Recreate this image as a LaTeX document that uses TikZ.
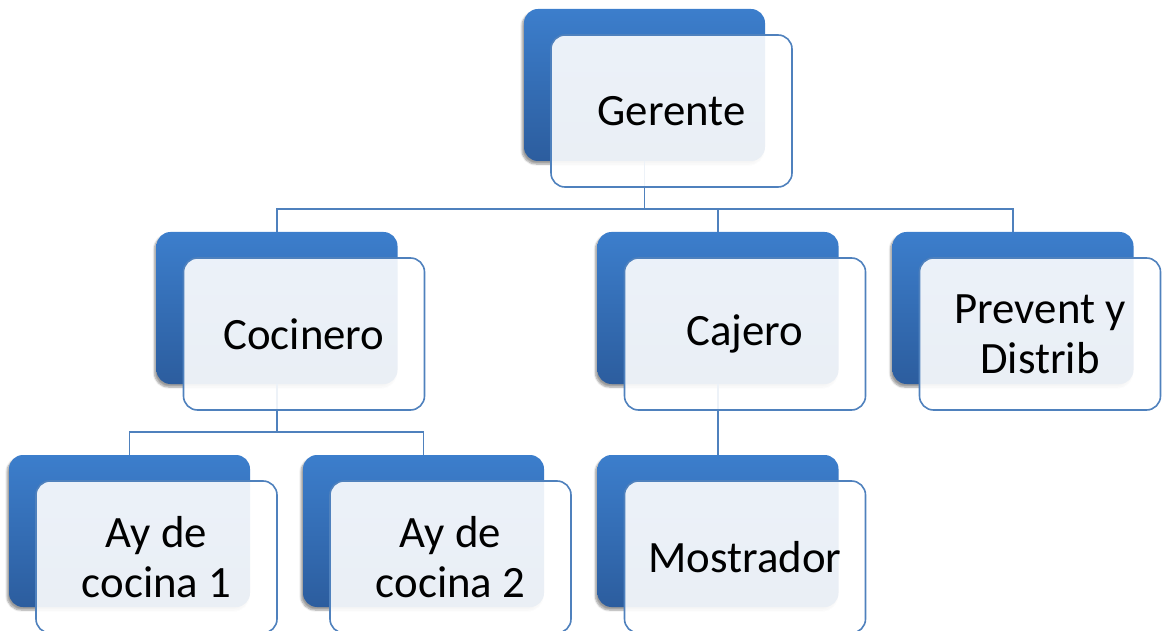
\documentclass[tikz,border=0pt]{standalone}
\usepackage{fontspec}
\setmainfont{Carlito}
\usetikzlibrary{shadows.blur}
\definecolor{bluetop}{RGB}{60,126,204}
\definecolor{bluebot}{RGB}{44,93,158}
\definecolor{edgeblue}{RGB}{79,129,189}
\begin{document}
\begin{tikzpicture}[x=1pt,y=-1pt,
 backbox/.style={rectangle, rounded corners=14pt, minimum width=241pt, minimum height=152pt, inner sep=0pt, outer sep=0pt, top color=bluetop, bottom color=bluebot, draw=none, blur shadow={shadow xshift=-2pt,shadow yshift=-3pt,shadow opacity=40,shadow blur steps=6}},
 frontbox/.style={rectangle, rounded corners=14pt, minimum width=241pt, minimum height=152pt, inner sep=0pt, outer sep=0pt, draw=edgeblue, line width=1.6pt, fill=white, fill opacity=0.9, text opacity=1, align=center, font=\fontsize{44.8}{50}\selectfont},
 conn/.style={draw=edgeblue, line width=1.6pt}]
\useasboundingbox (0,0) rectangle (1163,631);
% back boxes
\node[backbox] (gB) at (644.5,85) {};
\node[backbox] (coB) at (277,308) {};
\node[backbox] (caB) at (718,308) {};
\node[backbox] (pB) at (1013,308) {};
\node[backbox] (a1B) at (129.5,531) {};
\node[backbox] (a2B) at (423.5,531) {};
\node[backbox] (mB) at (718,531) {};
% connectors
\draw[conn] (gB.south) -- ++(0,48) -| (coB.north);
\draw[conn] (gB.south) -- ++(0,48) -| (caB.north);
\draw[conn] (gB.south) -- ++(0,48) -| (pB.north);
\draw[conn] (coB.south) -- ++(0,48) -| (a1B.north);
\draw[conn] (coB.south) -- ++(0,48) -| (a2B.north);
\draw[conn] (caB.south) -- (mB.north);
% front boxes
\node[frontbox] (gF) at (671.5,111) {Gerente};
\node[frontbox] (coF) at (304,334) {Cocinero};
\node[frontbox] (caF) at (745,334) {Cajero};
\node[frontbox] (pF) at (1040,334) {Prevent y\\Distrib};
\node[frontbox] (a1F) at (156.5,557) {Ay de\\cocina 1};
\node[frontbox] (a2F) at (450.5,557) {Ay de\\cocina 2};
\node[frontbox] (mF) at (745,557) {Mostrador};
\end{tikzpicture}
\end{document}
